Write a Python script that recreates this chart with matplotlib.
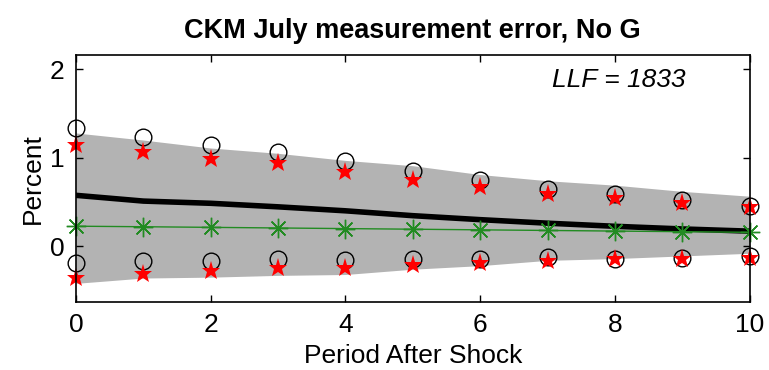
import numpy as np
import matplotlib
matplotlib.use("Agg")
import matplotlib.pyplot as plt

plt.rcParams['font.family'] = ['Liberation Sans', 'DejaVu Sans']

periods = np.arange(11)

# posterior band and median response
band_upper = [1.28, 1.20, 1.11, 1.05, 0.97, 0.91, 0.81, 0.74, 0.69, 0.62, 0.565]
band_lower = [-0.42, -0.36, -0.35, -0.33, -0.32, -0.26, -0.22, -0.16, -0.14, -0.11, -0.08]
median_line = [0.575, 0.51, 0.485, 0.445, 0.40, 0.345, 0.30, 0.26, 0.225, 0.195, 0.17]
green_line = [0.226, 0.22, 0.213, 0.206, 0.199, 0.192, 0.185, 0.178, 0.171, 0.164, 0.157]

# data bounds
circ_upper = [1.34, 1.23, 1.14, 1.07, 0.96, 0.85, 0.75, 0.65, 0.59, 0.52, 0.46]
circ_lower = [-0.185, -0.17, -0.165, -0.15, -0.16, -0.14, -0.14, -0.12, -0.14, -0.13, -0.11]
star_upper = [1.14, 1.06, 0.99, 0.935, 0.84, 0.75, 0.67, 0.595, 0.54, 0.49, 0.445]
star_lower = [-0.36, -0.31, -0.28, -0.25, -0.25, -0.215, -0.19, -0.165, -0.15, -0.145, -0.13]

fig = plt.figure(figsize=(7.69, 3.70), dpi=100)
ax = fig.add_axes([0.0988, 0.184, 0.876, 0.667])

ax.fill_between(periods, band_lower, band_upper, color='#b3b3b3', linewidth=0)
ax.plot(periods, median_line, color='black', linewidth=4)
ax.plot(periods, green_line, color='#228b22', linewidth=1,
        marker=(8, 2, 0), markersize=14, markeredgewidth=1, clip_on=False)
for vals in (circ_upper, circ_lower):
    ax.plot(periods, vals, linestyle='none', marker='o', markersize=12,
            markerfacecolor='none', markeredgecolor='black', markeredgewidth=1,
            clip_on=False)
for vals in (star_upper, star_lower):
    ax.plot(periods, vals, linestyle='none', marker='*', markersize=14,
            color='red', markeredgewidth=0, clip_on=False)

ax.set_xlim(0, 10)
ax.set_ylim(-0.63, 2.16)
ax.set_xticks([0, 2, 4, 6, 8, 10])
ax.set_yticks([0, 1, 2])
ax.tick_params(direction='in', top=True, right=True, labelsize=19, length=5, width=1, pad=8)
for s in ax.spines.values():
    s.set_linewidth(1.2)

ax.set_xlabel('Period After Shock', fontsize=19, labelpad=5)
ax.set_ylabel('Percent', fontsize=19, labelpad=4)
ax.set_title('CKM July measurement error, No G', fontsize=19.5, fontweight='bold', pad=12)
ax.text(0.905, 0.9, 'LLF = 1833', transform=ax.transAxes, fontsize=19,
        style='italic', ha='right', va='center')

fig.savefig('out.png', dpi=100)
